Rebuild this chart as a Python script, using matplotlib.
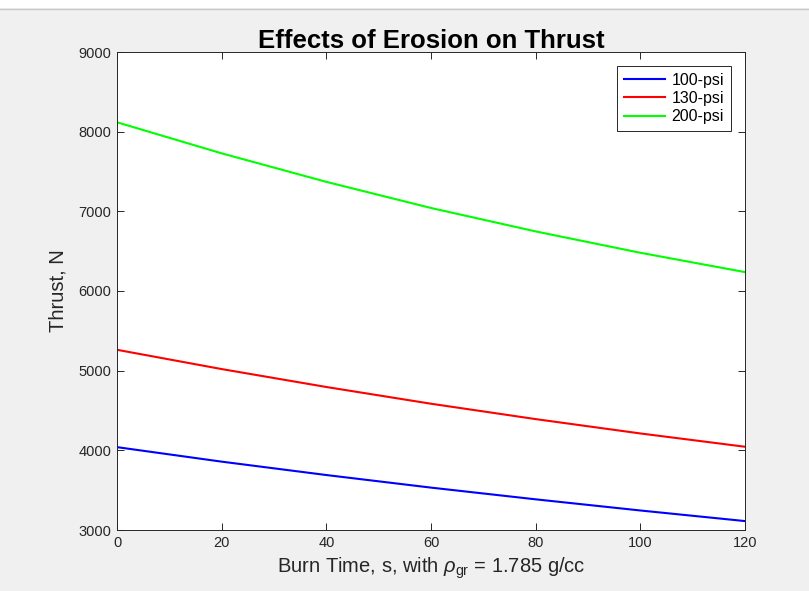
import matplotlib
matplotlib.use("Agg")
import matplotlib.pyplot as plt
from matplotlib.patches import Rectangle
from matplotlib.lines import Line2D

# --- datos ---
burn_time = [0, 20, 40, 60, 80, 100, 120]
thrust_100 = [4040, 3858, 3690, 3532, 3385, 3245, 3112]
thrust_130 = [5262, 5020, 4795, 4585, 4392, 4212, 4045]
thrust_200 = [8118, 7728, 7370, 7042, 6748, 6480, 6237]
series_labels = ["100-psi", "130-psi", "200-psi"]

plt.rcParams["font.family"] = ["Liberation Sans", "DejaVu Sans"]
plt.rcParams["mathtext.fontset"] = "custom"
plt.rcParams["mathtext.rm"] = "Liberation Sans"
plt.rcParams["mathtext.it"] = "Liberation Sans:italic"

fig = plt.figure(figsize=(8.09, 5.91), dpi=100, facecolor="#f0f0f0")
# franja blanca superior
fig.patches.append(Rectangle((0, 1 - 8 / 591), 1, 8 / 591, transform=fig.transFigure,
                             facecolor="white", edgecolor="none"))
fig.add_artist(Line2D([0, 1], [1 - 8.5 / 591] * 2, transform=fig.transFigure,
                      color="#c8c8c8", lw=1))

ax = fig.add_axes([117 / 809, 1 - 530 / 591, 628 / 809, 478 / 591])
ax.set_facecolor("white")

ax.plot(burn_time, thrust_100, color="#0000ff", lw=1.5, label=series_labels[0])
ax.plot(burn_time, thrust_130, color="#ff0000", lw=1.5, label=series_labels[1])
ax.plot(burn_time, thrust_200, color="#00ff00", lw=1.5, label=series_labels[2])

ax.set_xlim(0, 120)
ax.set_ylim(3000, 9000)
ax.set_xticks(range(0, 121, 20))
ax.set_yticks(range(3000, 9001, 1000))

for s in ax.spines.values():
    s.set_color("#262626")
    s.set_linewidth(0.7)
ax.tick_params(direction="in", top=True, right=True, length=5, width=0.7,
               colors="#262626", labelsize=10.5, pad=4)

ax.set_title("Effects of Erosion on Thrust", fontsize=18.5, fontweight="bold", pad=3)
ax.set_xlabel(r"Burn Time, s, with $\rho_{\mathrm{gr}}$ = 1.785 g/cc", fontsize=14.5,
              color="#262626", labelpad=4)
ax.set_ylabel("Thrust, N", fontsize=14.5, color="#262626", labelpad=8)

leg = ax.legend(loc="upper right", fontsize=11.5, fancybox=False, framealpha=1,
                edgecolor="#262626", handlelength=2.6, borderaxespad=0.9,
                labelspacing=0.2, handletextpad=0.4, borderpad=0.4)
leg.get_frame().set_linewidth(0.7)

fig.savefig("out.png", dpi=100, facecolor=fig.get_facecolor())
